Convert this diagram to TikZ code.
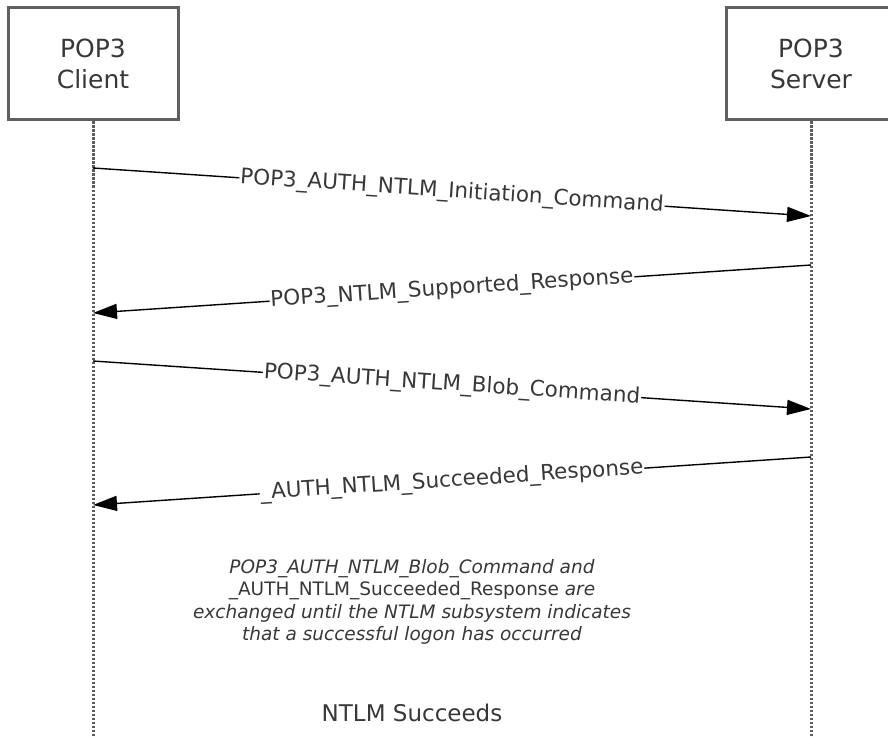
\documentclass[tikz,border=0pt]{standalone}
\usepackage{fontspec}
\setmainfont{DejaVu Sans}
\usetikzlibrary{arrows.meta}
\definecolor{txt}{HTML}{383838}
\definecolor{boxc}{HTML}{606060}
\definecolor{lifec}{HTML}{5E5E5E}
\begin{document}
\begin{tikzpicture}[x=1pt,y=-1pt,
  actor/.style={draw=boxc, line width=3pt, fill=white, minimum width=170pt, minimum height=112pt, align=center, font=\fontsize{25}{31}\selectfont, text=txt, inner sep=0pt},
  life/.style={draw=lifec, line width=3pt, dash pattern=on 2.5pt off 1.5pt},
  msg/.style={draw=black, line width=1.4pt, -{Triangle[length=24pt,width=15pt]}},
  lbl/.style={fill=white, inner sep=1pt, font=\fontsize{21.5}{25}\selectfont, text=txt, sloped, midway},
  note/.style={font=\fontsize{18.5}{22.5}\selectfont, text=txt, align=center}]
\useasboundingbox (0,0) rectangle (888,738);
\clip (0,0) rectangle (888,738);
\fill[white] (0,0) rectangle (888,738);
% actors
\node[actor] (client) at (93,64) {POP3\\Client};
\node[actor] (server) at (811,64) {POP3\\Server};
% lifelines
\coordinate (cend) at (93,740);
\coordinate (send) at (811,740);
\draw[life] (client.south) -- (cend);
\draw[life] (server.south) -- (send);
% message anchors
\coordinate (c1) at (93,168);
\coordinate (s1) at (811,216);
\coordinate (s2) at (811,265);
\coordinate (c2) at (93,313);
\coordinate (c3) at (93,361);
\coordinate (s3) at (811,409);
\coordinate (s4) at (811,457);
\coordinate (c4) at (93,505);
% messages
\draw[msg] (c1) -- node[lbl] (m1) {POP3\_AUTH\_NTLM\_Initiation\_Command} (s1);
\draw[msg] (s2) -- node[lbl] (m2) {POP3\_NTLM\_Supported\_Response} (c2);
\draw[msg] (c3) -- node[lbl] (m3) {POP3\_AUTH\_NTLM\_Blob\_Command} (s3);
\draw[msg] (s4) -- node[lbl] (m4) {\_AUTH\_NTLM\_Succeeded\_Response} (c4);
% notes
\node[note] (loopnote) at (412,602) {\textit{POP3\_AUTH\_NTLM\_Blob\_Command and}\\
  \_AUTH\_NTLM\_Succeeded\_Response \textit{are}\\
  \textit{exchanged until the NTLM subsystem indicates}\\
  \textit{that a successful logon has occurred}};
\node[font=\fontsize{23}{28}\selectfont, text=txt] (succ) at (412,713) {NTLM Succeeds};
\end{tikzpicture}
\end{document}
